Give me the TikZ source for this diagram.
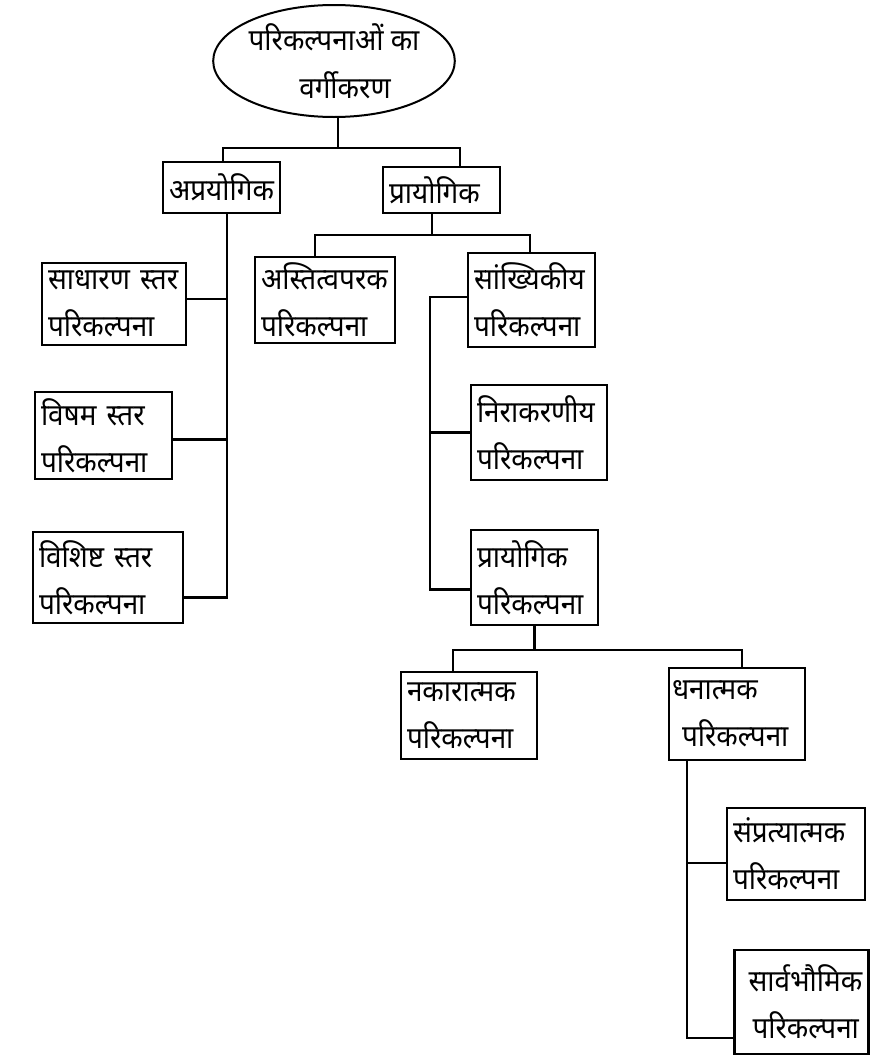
\documentclass[tikz,border=0pt]{standalone}
\usepackage{fontspec}
\newfontfamily\hindi[Script=Devanagari,FakeStretch=0.93]{Noto Sans}
\usetikzlibrary{shapes.geometric}

\begin{document}
\begin{tikzpicture}[x=1pt,y=-1pt]

  \tikzstyle{hypBox} = [draw, line width=2.2pt, rectangle, align=left, inner xsep=6pt, inner ysep=4pt, font=\hindi\fontsize{30}{47}\selectfont];
  \tikzstyle{rootNode} = [draw, line width=2pt, ellipse, align=center, inner sep=0pt, font=\hindi\fontsize{30}{48}\selectfont];
  \tikzstyle{link} = [line width=2.2pt];

  \useasboundingbox (0,0) rectangle (870,1055);

  \node[rootNode, minimum width=238pt, minimum height=112pt] (root) at (334,61) {परिकल्पनाओं का\\\hspace{22pt}वर्गीकरण};

  \node[hypBox, text width=105pt, minimum height=51pt] (apra) at (221.5,187.5) {अप्रयोगिक};
  \node[hypBox, text width=105pt, minimum height=46pt] (prayo) at (441.5,190) {प्रायोगिक};

  \node[hypBox, text width=132pt, minimum height=82pt] (sadharan) at (114,304) {साधारण स्तर\\परिकल्पना};
  \node[hypBox, text width=125pt, minimum height=87pt] (visham) at (103.5,435.5) {विषम स्तर\\परिकल्पना};
  \node[hypBox, text width=138pt, minimum height=91pt] (vishisht) at (108,577.5) {विशिष्ट स्तर\\परिकल्पना};

  \node[hypBox, text width=128pt, minimum height=86pt] (astitva) at (325,300) {अस्तित्वपरक\\परिकल्पना};
  \node[hypBox, text width=115pt, minimum height=94pt] (sankhy) at (531.5,300) {सांख्यिकीय\\परिकल्पना};
  \node[hypBox, text width=124pt, minimum height=95pt] (nirakar) at (539,432.5) {निराकरणीय\\परिकल्पना};
  \node[hypBox, text width=115pt, minimum height=95pt] (prayoHyp) at (534.5,577.5) {प्रायोगिक\\परिकल्पना};

  \node[hypBox, text width=124pt, minimum height=87pt] (nakar) at (469,715.5) {नकारात्मक\\परिकल्पना};
  \node[hypBox, inner xsep=3pt, text width=130pt, minimum height=92pt] (dhan) at (737,714) {धनात्मक\\\hspace{10pt}परिकल्पना};
  \node[hypBox, text width=126pt, minimum height=92pt] (sampra) at (796,854) {संप्रत्यात्मक\\परिकल्पना};
  \node[hypBox, text width=122pt, minimum height=104pt] (sarva) at (801.5,1002) {\hspace{8pt}सार्वभौमिक\\\hspace{12pt}परिकल्पना};

  % top split
  \coordinate (j1) at (338,148);
  \draw[link] (root.south -| j1) -- (j1);
  \draw[link] ([xshift=1.5pt]apra.north) |- (j1) -| ([xshift=18.5pt]prayo.north);

  % non-experimental side
  \coordinate (ls) at ([xshift=5.5pt]apra.south);
  \draw[link] (ls) |- ([yshift=-20pt]vishisht.east);
  \draw[link] ([yshift=5pt]sadharan.east) -- ([yshift=5pt]sadharan.east -| ls);
  \draw[link] ([yshift=-4pt]visham.east) -- ([yshift=-4pt]visham.east -| ls);

  % experimental side
  \coordinate (j2) at (432,235);
  \draw[link] (prayo.south -| j2) -- (j2);
  \draw[link] ([xshift=-10pt]astitva.north) |- (j2) -| ([xshift=-1.5pt]sankhy.north);

  \coordinate (rs) at (430,297);
  \draw[link] ([yshift=3pt]sankhy.west) -- ([yshift=3pt]sankhy.west -| rs) |- ([yshift=-12pt]prayoHyp.west);
  \draw[link] (nirakar.west) -- (nirakar.west -| rs);

  \coordinate (j3) at (533,650);
  \draw[link] (prayoHyp.south) -- (prayoHyp.south |- j3);
  \draw[link] ([xshift=-16pt]nakar.north) |- (j3) -| ([xshift=5pt]dhan.north);

  % positive side
  \coordinate (ds) at ([xshift=-50pt]dhan.south);
  \coordinate (sp) at ([yshift=-9pt]sampra.west);
  \draw[link] (ds) |- ([yshift=-36pt]sarva.west);
  \draw[link] (sp) -- (sp -| ds);

\end{tikzpicture}
\end{document}
